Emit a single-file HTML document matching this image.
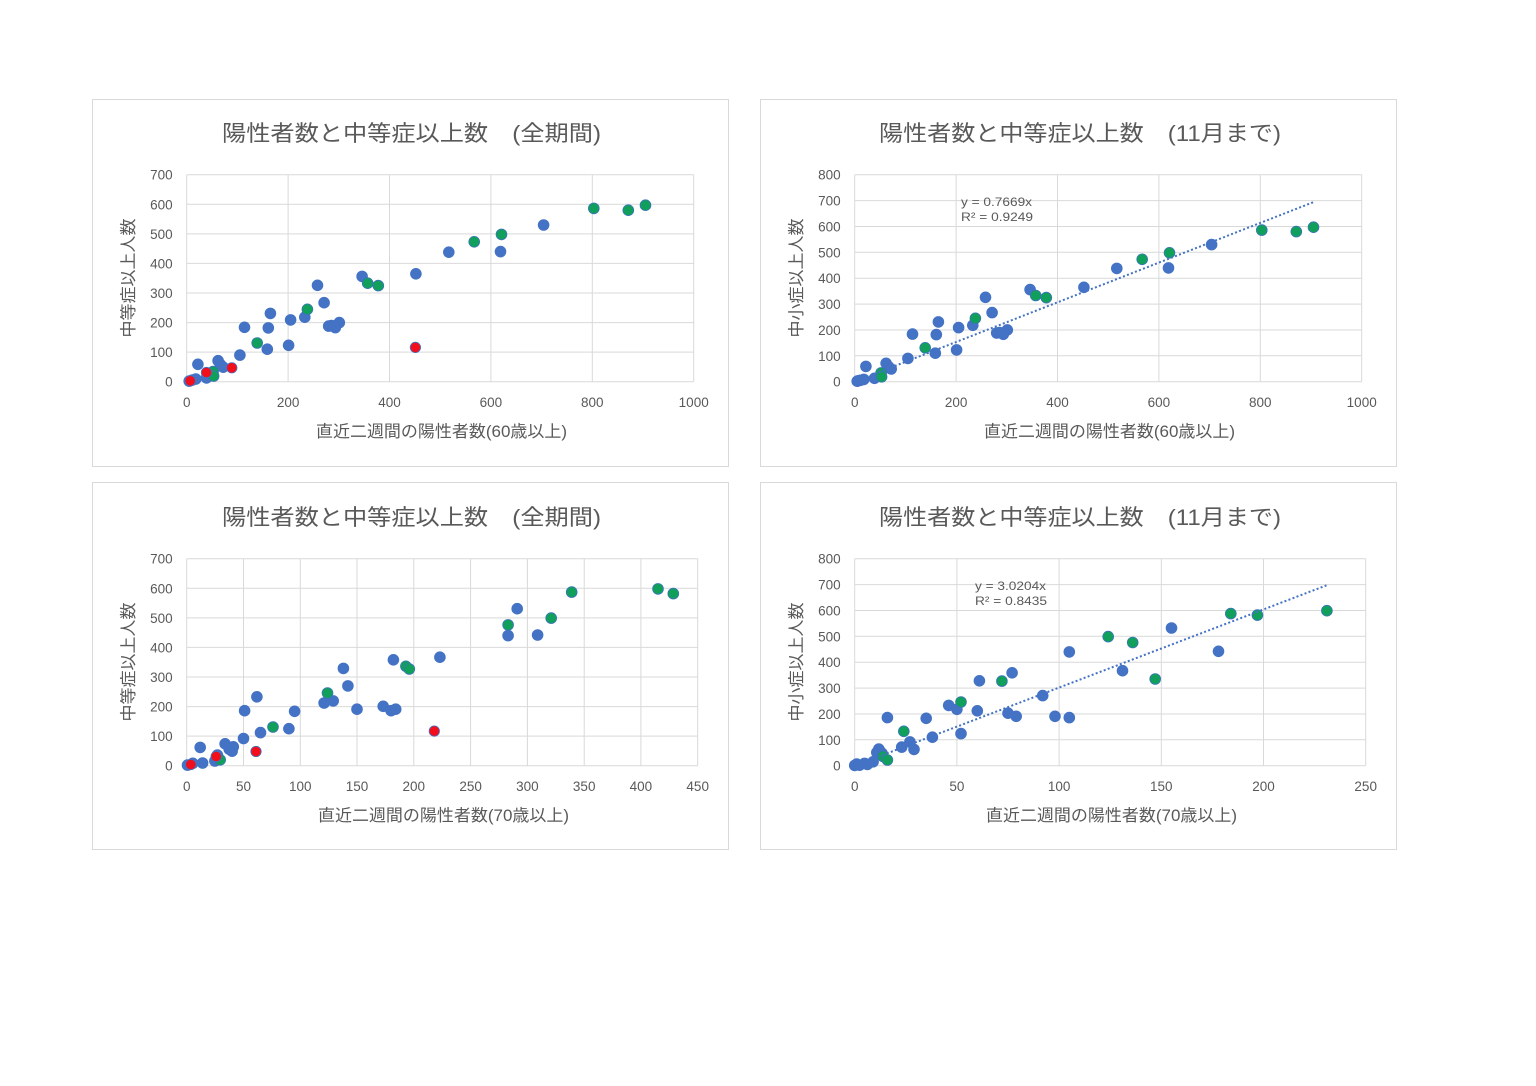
<!DOCTYPE html>
<html><head><meta charset="utf-8"><style>
html,body{margin:0;padding:0;background:#fff;}
svg{display:block;}
text{font-family:"Liberation Sans","Noto Sans CJK JP",sans-serif;fill:#595959;}
.tk{font-size:13.5px;}
.ttl{font-size:22px;}
.ax{font-size:16.5px;}
.eq{font-size:12px;}
.g{stroke:#d9d9d9;stroke-width:1;fill:none;}
.b{fill:#4472C4;stroke:#4472C4;stroke-width:0.8;}
.gr{fill:#10A05C;stroke:#3a74b8;stroke-width:0.8;}
.r{fill:#F20F1C;stroke:#4472C4;stroke-width:0.8;}
.tl{stroke:#4472C4;stroke-width:2;stroke-dasharray:2 2.3;fill:none;}
</style></head><body>
<svg width="1536" height="1086" viewBox="0 0 1536 1086" xmlns="http://www.w3.org/2000/svg">
<rect width="1536" height="1086" fill="#fff"/>
<!-- chart boxes -->
<rect x="92.5" y="99.5" width="636" height="367" fill="#fff" stroke="#d9d9d9"/>
<rect x="760.5" y="99.5" width="636" height="367" fill="#fff" stroke="#d9d9d9"/>
<rect x="92.5" y="482.5" width="636" height="367" fill="#fff" stroke="#d9d9d9"/>
<rect x="760.5" y="482.5" width="636" height="367" fill="#fff" stroke="#d9d9d9"/>

<!-- ================= CHART 1 ================= -->
<g class="g">
<path d="M186.7 174.7V381.7M288.1 174.7V381.7M389.5 174.7V381.7M490.9 174.7V381.7M592.3 174.7V381.7M693.7 174.7V381.7"/>
<path d="M186.7 381.7H693.7M186.7 352.1H693.7M186.7 322.6H693.7M186.7 293H693.7M186.7 263.4H693.7M186.7 233.9H693.7M186.7 204.3H693.7M186.7 174.7H693.7"/>
</g>
<g class="tk" text-anchor="end">
<text x="172.7" y="386.7">0</text><text x="172.7" y="357.1">100</text><text x="172.7" y="327.6">200</text><text x="172.7" y="298">300</text><text x="172.7" y="268.4">400</text><text x="172.7" y="238.9">500</text><text x="172.7" y="209.3">600</text><text x="172.7" y="179.7">700</text>
</g>
<g class="tk" text-anchor="middle">
<text x="186.7" y="407">0</text><text x="288.1" y="407">200</text><text x="389.5" y="407">400</text><text x="490.9" y="407">600</text><text x="592.3" y="407">800</text><text x="693.7" y="407">1000</text>
</g>
<text class="ttl" x="222" y="141" textLength="379" lengthAdjust="spacingAndGlyphs">陽性者数と中等症以上数　(全期間)</text>
<text class="ax" x="316" y="437" textLength="251" lengthAdjust="spacingAndGlyphs">直近二週間の陽性者数(60歳以上)</text>
<text class="ax" transform="translate(134,278) rotate(-90)" x="-59.5" y="0" textLength="119" lengthAdjust="spacingAndGlyphs">中等症以上人数</text>
<g class="b">
<circle cx="189.2" cy="381.1" r="5.4"/><circle cx="192.4" cy="380" r="5.4"/><circle cx="195.8" cy="379" r="5.4"/><circle cx="197.9" cy="364.3" r="5.4"/><circle cx="206.5" cy="377.9" r="5.4"/><circle cx="218.1" cy="360.7" r="5.4"/><circle cx="220.2" cy="364.3" r="5.4"/><circle cx="221.5" cy="366" r="5.4"/><circle cx="223.2" cy="367.2" r="5.4"/><circle cx="239.9" cy="355.1" r="5.4"/><circle cx="244.5" cy="327.3" r="5.4"/><circle cx="267.3" cy="349.2" r="5.4"/><circle cx="268.3" cy="327.9" r="5.4"/><circle cx="270.4" cy="313.4" r="5.4"/><circle cx="288.6" cy="345.3" r="5.4"/><circle cx="290.6" cy="319.9" r="5.4"/><circle cx="304.8" cy="317.2" r="5.4"/><circle cx="317.5" cy="285.3" r="5.4"/><circle cx="324.1" cy="302.7" r="5.4"/><circle cx="328.7" cy="326.1" r="5.4"/><circle cx="331.5" cy="325.5" r="5.4"/><circle cx="335.3" cy="327.6" r="5.4"/><circle cx="339.3" cy="322.6" r="5.4"/><circle cx="362.1" cy="276.4" r="5.4"/><circle cx="415.9" cy="273.8" r="5.4"/><circle cx="448.8" cy="252.2" r="5.4"/><circle cx="500.5" cy="251.6" r="5.4"/><circle cx="543.6" cy="225" r="5.4"/>
</g>
<g class="gr">
<circle cx="213.1" cy="371.6" r="5.4"/><circle cx="213.6" cy="376.1" r="5.4"/><circle cx="257.2" cy="343" r="5.4"/><circle cx="307.4" cy="309.3" r="5.4"/><circle cx="367.7" cy="283.2" r="5.4"/><circle cx="378.3" cy="285.6" r="5.4"/><circle cx="474.2" cy="241.8" r="5.4"/><circle cx="501.5" cy="234.4" r="5.4"/><circle cx="593.8" cy="208.4" r="5.4"/><circle cx="628.3" cy="210.2" r="5.4"/><circle cx="645.5" cy="205.2" r="5.4"/>
</g>
<g class="r">
<circle cx="190.2" cy="380.8" r="5.2"/><circle cx="206.5" cy="372.5" r="5.2"/><circle cx="231.8" cy="367.8" r="5.2"/><circle cx="415.4" cy="347.4" r="5.2"/>
</g>

<!-- ================= CHART 2 ================= -->
<g class="g">
<path d="M854.7 174.7V381.7M956.1 174.7V381.7M1057.5 174.7V381.7M1158.9 174.7V381.7M1260.3 174.7V381.7M1361.7 174.7V381.7"/>
<path d="M854.7 381.7H1361.7M854.7 355.8H1361.7M854.7 329.95H1361.7M854.7 304.1H1361.7M854.7 278.2H1361.7M854.7 252.3H1361.7M854.7 226.45H1361.7M854.7 200.6H1361.7M854.7 174.7H1361.7"/>
</g>
<g class="tk" text-anchor="end">
<text x="840.7" y="386.7">0</text><text x="840.7" y="360.8">100</text><text x="840.7" y="334.95">200</text><text x="840.7" y="309.1">300</text><text x="840.7" y="283.2">400</text><text x="840.7" y="257.3">500</text><text x="840.7" y="231.45">600</text><text x="840.7" y="205.6">700</text><text x="840.7" y="179.7">800</text>
</g>
<g class="tk" text-anchor="middle">
<text x="854.7" y="407">0</text><text x="956.1" y="407">200</text><text x="1057.5" y="407">400</text><text x="1158.9" y="407">600</text><text x="1260.3" y="407">800</text><text x="1361.7" y="407">1000</text>
</g>
<text class="ttl" x="879" y="141" textLength="402" lengthAdjust="spacingAndGlyphs">陽性者数と中等症以上数　(11月まで)</text>
<text class="ax" x="984" y="437" textLength="251" lengthAdjust="spacingAndGlyphs">直近二週間の陽性者数(60歳以上)</text>
<text class="ax" transform="translate(802,278) rotate(-90)" x="-59.5" y="0" textLength="119" lengthAdjust="spacingAndGlyphs">中小症以上人数</text>
<text class="eq" x="961" y="206" textLength="71" lengthAdjust="spacingAndGlyphs">y = 0.7669x</text>
<text class="eq" x="961" y="221" textLength="72" lengthAdjust="spacingAndGlyphs">R² = 0.9249</text>
<g class="b">
<circle cx="857.2" cy="381.2" r="5.4"/><circle cx="858.2" cy="380.8" r="5.4"/><circle cx="860.4" cy="380.3" r="5.4"/><circle cx="863.8" cy="379.4" r="5.4"/><circle cx="865.9" cy="366.4" r="5.4"/><circle cx="874.5" cy="378.3" r="5.4"/><circle cx="886.1" cy="363.3" r="5.4"/><circle cx="888.2" cy="366.4" r="5.4"/><circle cx="889.5" cy="368" r="5.4"/><circle cx="891.2" cy="369" r="5.4"/><circle cx="907.9" cy="358.4" r="5.4"/><circle cx="912.5" cy="334.1" r="5.4"/><circle cx="935.3" cy="353.2" r="5.4"/><circle cx="936.3" cy="334.6" r="5.4"/><circle cx="938.4" cy="321.9" r="5.4"/><circle cx="956.6" cy="349.9" r="5.4"/><circle cx="958.6" cy="327.6" r="5.4"/><circle cx="972.8" cy="325.3" r="5.4"/><circle cx="985.5" cy="297.3" r="5.4"/><circle cx="992.1" cy="312.6" r="5.4"/><circle cx="996.7" cy="333" r="5.4"/><circle cx="999.5" cy="332.5" r="5.4"/><circle cx="1003.3" cy="334.3" r="5.4"/><circle cx="1007.3" cy="329.95" r="5.4"/><circle cx="1030.1" cy="289.6" r="5.4"/><circle cx="1083.9" cy="287.3" r="5.4"/><circle cx="1116.8" cy="268.4" r="5.4"/><circle cx="1168.5" cy="267.9" r="5.4"/><circle cx="1211.6" cy="244.6" r="5.4"/>
</g>
<g class="gr">
<circle cx="881.1" cy="372.9" r="5.4"/><circle cx="881.6" cy="376.8" r="5.4"/><circle cx="925.2" cy="347.8" r="5.4"/><circle cx="975.4" cy="318.3" r="5.4"/><circle cx="1035.7" cy="295.5" r="5.4"/><circle cx="1046.3" cy="297.6" r="5.4"/><circle cx="1142.2" cy="259.3" r="5.4"/><circle cx="1169.5" cy="252.8" r="5.4"/><circle cx="1261.8" cy="230.1" r="5.4"/><circle cx="1296.3" cy="231.6" r="5.4"/><circle cx="1313.5" cy="227.2" r="5.4"/>
</g>
<path class="tl" d="M854.7 381.7L1313.5 202.1"/>

<!-- ================= CHART 3 ================= -->
<g class="g">
<path d="M186.7 558.7V765.7M243.5 558.7V765.7M300.3 558.7V765.7M357 558.7V765.7M413.8 558.7V765.7M470.6 558.7V765.7M527.4 558.7V765.7M584.2 558.7V765.7M640.9 558.7V765.7M697.7 558.7V765.7"/>
<path d="M186.7 765.7H697.7M186.7 736.1H697.7M186.7 706.6H697.7M186.7 677H697.7M186.7 647.4H697.7M186.7 617.9H697.7M186.7 588.3H697.7M186.7 558.7H697.7"/>
</g>
<g class="tk" text-anchor="end">
<text x="172.7" y="770.7">0</text><text x="172.7" y="741.1">100</text><text x="172.7" y="711.6">200</text><text x="172.7" y="682">300</text><text x="172.7" y="652.4">400</text><text x="172.7" y="622.9">500</text><text x="172.7" y="593.3">600</text><text x="172.7" y="563.7">700</text>
</g>
<g class="tk" text-anchor="middle">
<text x="186.7" y="791">0</text><text x="243.5" y="791">50</text><text x="300.3" y="791">100</text><text x="357" y="791">150</text><text x="413.8" y="791">200</text><text x="470.6" y="791">250</text><text x="527.4" y="791">300</text><text x="584.2" y="791">350</text><text x="640.9" y="791">400</text><text x="697.7" y="791">450</text>
</g>
<text class="ttl" x="222" y="525" textLength="379" lengthAdjust="spacingAndGlyphs">陽性者数と中等症以上数　(全期間)</text>
<text class="ax" x="318" y="821" textLength="251" lengthAdjust="spacingAndGlyphs">直近二週間の陽性者数(70歳以上)</text>
<text class="ax" transform="translate(134,662) rotate(-90)" x="-59.5" y="0" textLength="119" lengthAdjust="spacingAndGlyphs">中等症以上人数</text>
<g class="b">
<circle cx="187.5" cy="765.1" r="5.4"/><circle cx="192.8" cy="763.3" r="5.4"/><circle cx="202.6" cy="763" r="5.4"/><circle cx="200.2" cy="747.4" r="5.4"/><circle cx="214.9" cy="761" r="5.4"/><circle cx="217.4" cy="755.1" r="5.4"/><circle cx="225.1" cy="743.8" r="5.4"/><circle cx="229.2" cy="749.1" r="5.4"/><circle cx="232.1" cy="751.2" r="5.4"/><circle cx="233.3" cy="746.8" r="5.4"/><circle cx="243.5" cy="738.5" r="5.4"/><circle cx="244.6" cy="710.7" r="5.4"/><circle cx="256.9" cy="696.8" r="5.4"/><circle cx="260.5" cy="732.6" r="5.4"/><circle cx="288.9" cy="728.7" r="5.4"/><circle cx="294.6" cy="711.3" r="5.4"/><circle cx="324.1" cy="703" r="5.4"/><circle cx="333.2" cy="700.9" r="5.4"/><circle cx="343.4" cy="668.4" r="5.4"/><circle cx="347.9" cy="685.9" r="5.4"/><circle cx="357" cy="709.2" r="5.4"/><circle cx="383.2" cy="706.3" r="5.4"/><circle cx="391.1" cy="710.7" r="5.4"/><circle cx="395.7" cy="709.2" r="5.4"/><circle cx="393.4" cy="659.8" r="5.4"/><circle cx="439.9" cy="657.2" r="5.4"/><circle cx="508.1" cy="635.6" r="5.4"/><circle cx="517.2" cy="608.7" r="5.4"/><circle cx="537.6" cy="635" r="5.4"/>
</g>
<g class="gr">
<circle cx="220.2" cy="759.8" r="5.4"/><circle cx="273" cy="727" r="5.4"/><circle cx="327.5" cy="693" r="5.4"/><circle cx="405.9" cy="666.3" r="5.4"/><circle cx="409.3" cy="669" r="5.4"/><circle cx="508.1" cy="624.9" r="5.4"/><circle cx="551.2" cy="618.1" r="5.4"/><circle cx="571.7" cy="592.1" r="5.4"/><circle cx="658" cy="588.9" r="5.4"/><circle cx="673.3" cy="593.6" r="5.4"/>
</g>
<g class="r">
<circle cx="190.8" cy="764.5" r="5.2"/><circle cx="216.2" cy="756.5" r="5.2"/><circle cx="256" cy="751.5" r="5.2"/><circle cx="434.3" cy="731.1" r="5.2"/>
</g>

<!-- ================= CHART 4 ================= -->
<g class="g">
<path d="M854.7 558.7V765.7M956.9 558.7V765.7M1059.1 558.7V765.7M1161.3 558.7V765.7M1263.5 558.7V765.7M1365.7 558.7V765.7"/>
<path d="M854.7 765.7H1365.7M854.7 739.8H1365.7M854.7 713.95H1365.7M854.7 688.1H1365.7M854.7 662.2H1365.7M854.7 636.3H1365.7M854.7 610.45H1365.7M854.7 584.6H1365.7M854.7 558.7H1365.7"/>
</g>
<g class="tk" text-anchor="end">
<text x="840.7" y="770.7">0</text><text x="840.7" y="744.8">100</text><text x="840.7" y="718.95">200</text><text x="840.7" y="693.1">300</text><text x="840.7" y="667.2">400</text><text x="840.7" y="641.3">500</text><text x="840.7" y="615.45">600</text><text x="840.7" y="589.6">700</text><text x="840.7" y="563.7">800</text>
</g>
<g class="tk" text-anchor="middle">
<text x="854.7" y="791">0</text><text x="956.9" y="791">50</text><text x="1059.1" y="791">100</text><text x="1161.3" y="791">150</text><text x="1263.5" y="791">200</text><text x="1365.7" y="791">250</text>
</g>
<text class="ttl" x="879" y="525" textLength="402" lengthAdjust="spacingAndGlyphs">陽性者数と中等症以上数　(11月まで)</text>
<text class="ax" x="986" y="821" textLength="251" lengthAdjust="spacingAndGlyphs">直近二週間の陽性者数(70歳以上)</text>
<text class="ax" transform="translate(802,662) rotate(-90)" x="-59.5" y="0" textLength="119" lengthAdjust="spacingAndGlyphs">中小症以上人数</text>
<text class="eq" x="975" y="590" textLength="71" lengthAdjust="spacingAndGlyphs">y = 3.0204x</text>
<text class="eq" x="975" y="605" textLength="72" lengthAdjust="spacingAndGlyphs">R² = 0.8435</text>
<g class="b">
<circle cx="854.7" cy="765.4" r="5.4"/><circle cx="856.7" cy="764.1" r="5.4"/><circle cx="859.6" cy="765.2" r="5.4"/><circle cx="864.5" cy="763.4" r="5.4"/><circle cx="867.4" cy="764.4" r="5.4"/><circle cx="873.1" cy="761.8" r="5.4"/><circle cx="876.8" cy="752.5" r="5.4"/><circle cx="878.8" cy="749.1" r="5.4"/><circle cx="880" cy="751.2" r="5.4"/><circle cx="882.1" cy="753.3" r="5.4"/><circle cx="887.4" cy="717.6" r="5.4"/><circle cx="901.7" cy="747.1" r="5.4"/><circle cx="909.9" cy="741.9" r="5.4"/><circle cx="914" cy="749.4" r="5.4"/><circle cx="926.2" cy="718.3" r="5.4"/><circle cx="932.4" cy="737.2" r="5.4"/><circle cx="948.7" cy="705.4" r="5.4"/><circle cx="956.9" cy="709.3" r="5.4"/><circle cx="961" cy="733.6" r="5.4"/><circle cx="977.3" cy="710.8" r="5.4"/><circle cx="979.4" cy="680.8" r="5.4"/><circle cx="1008" cy="713.2" r="5.4"/><circle cx="1012.1" cy="672.8" r="5.4"/><circle cx="1016.2" cy="716.3" r="5.4"/><circle cx="1042.7" cy="695.6" r="5.4"/><circle cx="1055" cy="716.3" r="5.4"/><circle cx="1069.3" cy="717.6" r="5.4"/><circle cx="1069.3" cy="651.9" r="5.4"/><circle cx="1122.5" cy="670.7" r="5.4"/><circle cx="1171.5" cy="628" r="5.4"/><circle cx="1218.5" cy="651.3" r="5.4"/>
</g>
<g class="gr">
<circle cx="882.9" cy="756.4" r="5.4"/><circle cx="887.4" cy="760" r="5.4"/><circle cx="903.8" cy="731.3" r="5.4"/><circle cx="961" cy="702" r="5.4"/><circle cx="1001.9" cy="681.1" r="5.4"/><circle cx="1108.2" cy="636.6" r="5.4"/><circle cx="1132.7" cy="642.5" r="5.4"/><circle cx="1155.2" cy="679" r="5.4"/><circle cx="1230.8" cy="613.6" r="5.4"/><circle cx="1257.4" cy="615.1" r="5.4"/><circle cx="1326.9" cy="610.7" r="5.4"/>
</g>
<path class="tl" d="M854.7 765.7L1326.9 585.2"/>
</svg>
</body></html>
